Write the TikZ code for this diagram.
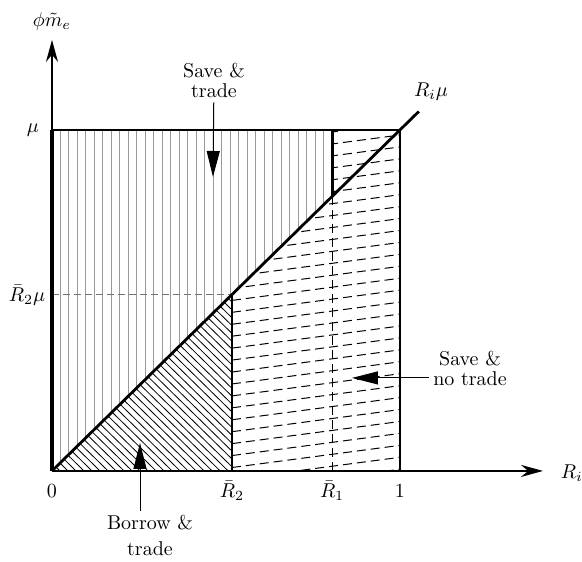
\documentclass[tikz,border=0pt]{standalone}
\usepackage{xcolor,tikz}
\usetikzlibrary{arrows.meta}
\definecolor{hatchgray}{gray}{0.6}
\definecolor{guidegray}{gray}{0.45}
\tikzset{
  bound/.style={line width=1.4pt},
  axisline/.style={line width=1.1pt,-{Stealth[length=11pt,width=6pt]}},
  hatchv/.style={hatchgray,line width=0.5pt},
  hatchd/.style={line width=0.4pt},
  hatchn/.style={line width=0.5pt,dash pattern=on 4.5pt off 2.5pt},
  guide/.style={guidegray,line width=0.6pt,dash pattern=on 3.5pt off 2pt},
  pointer/.style={line width=0.5pt,-{Triangle[length=13pt,width=6.5pt]}},
  regionlab/.style={inner sep=2pt,align=center}
}
\newcommand{\Rtwo}{0.517}
\newcommand{\Rone}{0.805}

\begin{document}
\begin{tikzpicture}[x=174pt,y=170.5pt]
\useasboundingbox (-0.1494,-0.2669) rectangle (1.523,1.381);
\coordinate (origin) at (0,0);
\coordinate (ytip) at (0,1.264);
\coordinate (xtip) at (1.411,0);
\coordinate (diagend) at (1.054,1.054);
% save & trade: vertical hatching
\begin{scope}
\clip (0,0) -- (0,1) -- (\Rone,1) -- (\Rone,\Rone) -- cycle;
\foreach \x in {0.0244,0.0488,...,0.81} \draw[hatchv] (\x,0) -- (\x,1);
\end{scope}
% borrow & trade: diagonal hatching
\begin{scope}
\clip (0,0) -- (\Rtwo,\Rtwo) -- (\Rtwo,0) -- cycle;
\foreach \x in {0.023,0.046,...,1.1} \draw[hatchd] (\x,0) -- ++(-0.6,0.6);
\end{scope}
% save & no trade: dashed hatching
\begin{scope}
\clip (\Rtwo,0) -- (\Rtwo,\Rtwo) -- (\Rone,\Rone) -- (\Rone,1) -- (1,1) -- (1,0) -- cycle;
\foreach \y in {-0.06,-0.025,...,1} \draw[hatchn] (\Rtwo,\y) -- ++(0.483,0.065);
\end{scope}
\draw[guide] (0,\Rtwo) -- (\Rtwo,\Rtwo);
\draw[hatchn] (\Rone,0) -- (\Rone,\Rone);
% boundaries
\draw[bound] (0,1) -- (1,1) -- (1,0);
\draw[bound] (\Rtwo,0) -- (\Rtwo,\Rtwo);
\draw[bound] (\Rone,1) -- (\Rone,\Rone);
\draw[bound] (origin) -- (diagend);
\draw[axisline] (origin) -- (ytip);
\draw[axisline] (origin) -- (xtip);
\draw[line width=1.7pt] (0,0) -- (0,1);
\draw[bound] (0,0) -- (1,0);
% axis labels
\node (ylab) at (0,1.317) {$\phi\tilde{m}_e$};
\node (mu) at (-0.0546,1) {$\mu$};
\node (rtwomu) at (-0.0718,0.516) {$\bar{R}_2\mu$};
\node[anchor=base] (zero) at (0,-0.079) {$0$};
\node[anchor=base] (rtwo) at (\Rtwo,-0.079) {$\bar{R}_2$};
\node[anchor=base] (rone) at (\Rone,-0.079) {$\bar{R}_1$};
\node[anchor=base] (one) at (1,-0.079) {$1$};
\node (xlab) at (1.494,-0.006) {$R_i$};
\node (diaglab) at (1.089,1.111) {$R_i\mu$};
% region labels
\node[regionlab] (savetrade) at (0.4655,1.144) {Save \&\\[-2pt]trade};
\coordinate (savetip) at (0.4626,0.862);
\draw[pointer] (savetrade) -- (savetip);
\node[regionlab] (borrow) at (0.2816,-0.19) {Borrow \&\\[1pt]trade};
\coordinate (borrowtip) at (0.2529,0.0821);
\draw[pointer] (borrow.north -| borrowtip) -- (borrowtip);
\node[regionlab] (notrade) at (1.2011,0.2991) {Save \&\\[-2pt]no trade};
\coordinate (notradetip) at (0.862,0.2727);
\draw[pointer] (notrade.west |- notradetip) -- (notradetip);
\end{tikzpicture}
\end{document}
